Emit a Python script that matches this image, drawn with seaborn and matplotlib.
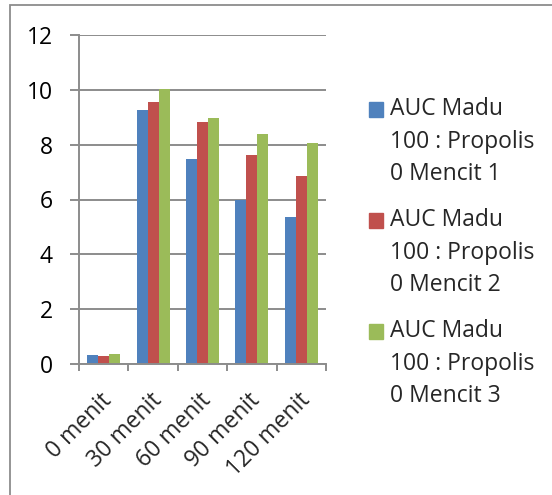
import matplotlib
matplotlib.use("Agg")
import matplotlib.pyplot as plt
import matplotlib.transforms as mtransforms
from matplotlib.patches import Rectangle
import seaborn as sns
import pandas as pd

# AUC values per sampling time for three mice
categories = ["0 menit", "30 menit", "60 menit", "90 menit", "120 menit"]
mencit_1 = [0.33, 9.27, 7.48, 5.98, 5.37]
mencit_2 = [0.29, 9.57, 8.83, 7.62, 6.87]
mencit_3 = [0.35, 10.02, 8.97, 8.38, 8.07]
series_names = [
    "AUC Madu\n100 : Propolis\n0 Mencit 1",
    "AUC Madu\n100 : Propolis\n0 Mencit 2",
    "AUC Madu\n100 : Propolis\n0 Mencit 3",
]
y_ticks = [0, 2, 4, 6, 8, 10, 12]
colors = ["#4F81BD", "#C0504D", "#9BBB59"]

rows = []
for name, vals in zip(series_names, [mencit_1, mencit_2, mencit_3]):
    for cat, v in zip(categories, vals):
        rows.append({"waktu": cat, "nilai": v, "seri": name})
df = pd.DataFrame(rows)

sns.set_style("white")
plt.rcParams["font.family"] = ["Open Sans", "DejaVu Sans"]
FS = 16.5

W, H = 552, 495
fig = plt.figure(figsize=(W / 100, H / 100), dpi=100)
ax = fig.add_axes([79 / W, 1 - 364 / H, (326 - 79) / W, (364 - 35) / H])

sns.barplot(data=df, x="waktu", y="nilai", hue="seri", order=categories,
            hue_order=series_names, palette=colors, width=0.67, gap=0,
            saturation=1, legend=False, ax=ax, linewidth=0)

grid_c = "#8C8C8C"
ax.set_ylim(0, 12)
ax.set_xlim(-0.5, len(categories) - 0.5)
ax.set_yticks(y_ticks)
ax.set_yticklabels([str(t) for t in y_ticks])
ax.yaxis.grid(True, color=grid_c, linewidth=1.4)
ax.set_axisbelow(True)
ax.set_xlabel("")
ax.set_ylabel("")
for s in ["top", "right"]:
    ax.spines[s].set_visible(False)
for s in ["left", "bottom"]:
    ax.spines[s].set_color(grid_c)
    ax.spines[s].set_linewidth(1.4)

ax.tick_params(axis="y", direction="out", length=6.5, width=1.4, color=grid_c,
               pad=12.5, labelsize=FS, labelcolor="black", left=True)
ax.set_xticks(range(len(categories)))
ax.set_xticklabels(categories)
ax.set_xticks([i - 0.5 for i in range(len(categories) + 1)], minor=True)
ax.tick_params(axis="x", which="major", length=0, labelsize=FS, pad=0)
ax.tick_params(axis="x", which="minor", direction="out", length=5, width=1.4,
               color=grid_c, bottom=True)
offset = mtransforms.ScaledTranslation(5 / 100, -33 / 100, fig.dpi_scale_trans)
for lbl in ax.get_xticklabels():
    lbl.set_rotation(45)
    lbl.set_ha("right")
    lbl.set_va("center")
    lbl.set_rotation_mode("anchor")
    lbl.set_transform(lbl.get_transform() + offset)

# legend: colour square beside the first line of each three-line label
line_gap = 31.7
for i, (name, c) in enumerate(zip(series_names, colors)):
    base = 116.7 + i * 111
    fig.patches.append(Rectangle((369 / W, 1 - base / H), 14 / W, 14.4 / H,
                                 transform=fig.transFigure, color=c))
    fig.text(390 / W, 1 - (base + 2 * line_gap) / H, name, fontsize=FS,
             ha="left", va="baseline", linespacing=1.47)

# chart-area frame
fig.patches.append(Rectangle((9.5 / W, -0.1), 2, 1 - 5.5 / H + 0.1,
                             transform=fig.transFigure, fill=False,
                             edgecolor=grid_c, linewidth=1.3))

fig.savefig("out.png", dpi=100)
